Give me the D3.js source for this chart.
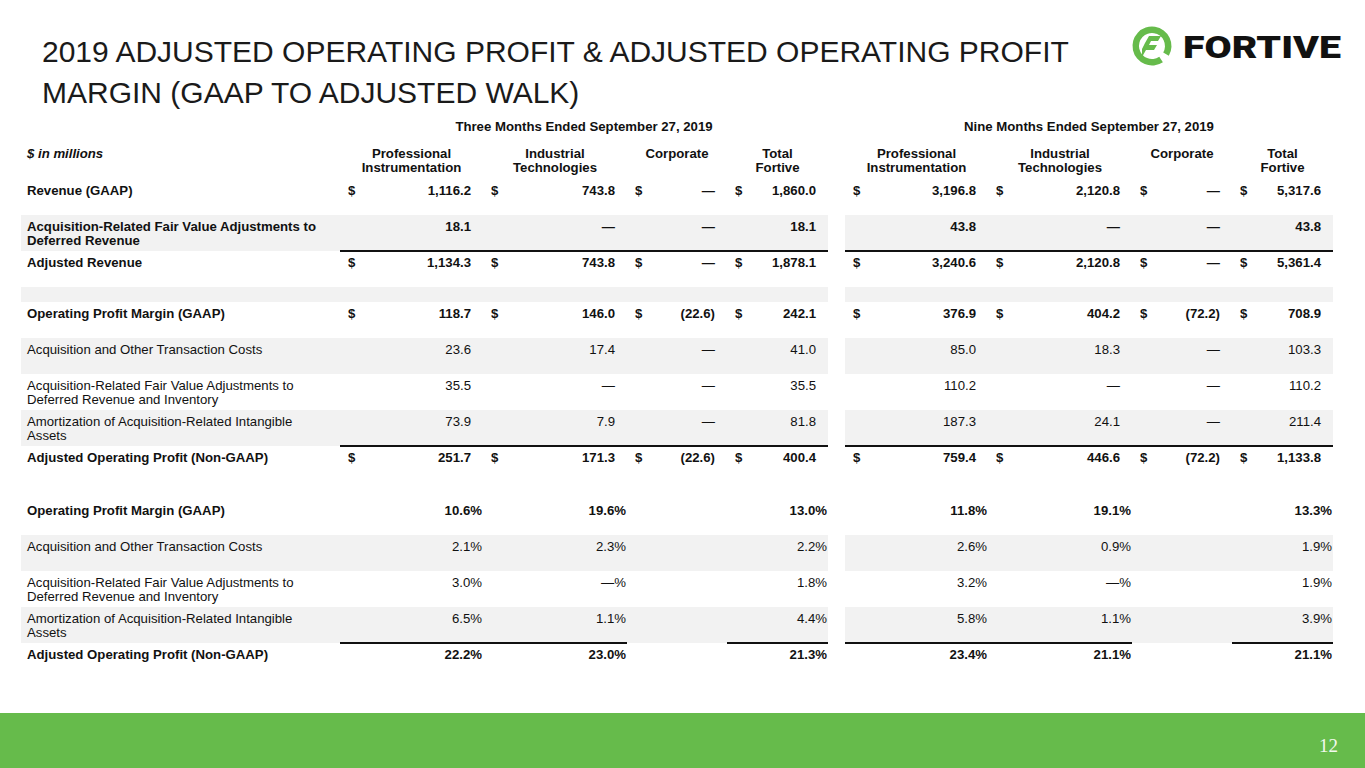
<!DOCTYPE html>
<html>
<head>
<meta charset="utf-8">
<script src="https://cdn.jsdelivr.net/npm/d3@7"></script>
<style>
  body { margin: 0; background: #fff; }
  text { font-family: "Liberation Sans", Arial, sans-serif; }
</style>
</head>
<body>
<div id="slide"></div>
<script>
// Table content
var titleLines = ["2019 ADJUSTED OPERATING PROFIT & ADJUSTED OPERATING PROFIT",
                  "MARGIN (GAAP TO ADJUSTED WALK)"];
var periods = ["Three Months Ended September 27, 2019", "Nine Months Ended September 27, 2019"];
var segments = [["Professional", "Instrumentation"], ["Industrial", "Technologies"], ["Corporate"], ["Total", "Fortive"]];

var rowLabels = [
    ["Revenue (GAAP)"],
    ["Acquisition-Related Fair Value Adjustments to", "Deferred Revenue"],
    ["Adjusted Revenue"],
    [],
    ["Operating Profit Margin (GAAP)"],
    ["Acquisition and Other Transaction Costs"],
    ["Acquisition-Related Fair Value Adjustments to", "Deferred Revenue and Inventory"],
    ["Amortization of Acquisition-Related Intangible", "Assets"],
    ["Adjusted Operating Profit (Non-GAAP)"],
    [],
    ["Operating Profit Margin (GAAP)"],
    ["Acquisition and Other Transaction Costs"],
    ["Acquisition-Related Fair Value Adjustments to", "Deferred Revenue and Inventory"],
    ["Amortization of Acquisition-Related Intangible", "Assets"],
    ["Adjusted Operating Profit (Non-GAAP)"]
];
// "$" = dollar row with signs, "n" = plain number, "%" = percent, "" = empty spacer
var rowFormats = ["$", "n", "$", "", "$", "n", "n", "n", "$", "", "%", "%", "%", "%", "%"];

// null = dash in $ rows, blank in % rows; 0 in % rows = "—%"
var threeMonthValues = [
    [1116.2, 743.8, null, 1860.0],
    [18.1, null, null, 18.1],
    [1134.3, 743.8, null, 1878.1],
    [],
    [118.7, 146.0, -22.6, 242.1],
    [23.6, 17.4, null, 41.0],
    [35.5, null, null, 35.5],
    [73.9, 7.9, null, 81.8],
    [251.7, 171.3, -22.6, 400.4],
    [],
    [10.6, 19.6, null, 13.0],
    [2.1, 2.3, null, 2.2],
    [3.0, 0, null, 1.8],
    [6.5, 1.1, null, 4.4],
    [22.2, 23.0, null, 21.3]
];
var nineMonthValues = [
    [3196.8, 2120.8, null, 5317.6],
    [43.8, null, null, 43.8],
    [3240.6, 2120.8, null, 5361.4],
    [],
    [376.9, 404.2, -72.2, 708.9],
    [85.0, 18.3, null, 103.3],
    [110.2, null, null, 110.2],
    [187.3, 24.1, null, 211.4],
    [759.4, 446.6, -72.2, 1133.8],
    [],
    [11.8, 19.1, null, 13.3],
    [2.6, 0.9, null, 1.9],
    [3.2, 0, null, 1.9],
    [5.8, 1.1, null, 3.9],
    [23.4, 21.1, null, 21.1]
];

// Layout / styling
var width = 1365, height = 768;
var green = "#66bb4b", ink = "#111", band = "#f2f2f2";
var boldRows = [0, 1, 2, 4, 8, 10, 14];
var shadedRows = [1, 3, 5, 7, 11, 13];
var ruleRows = [2, 8, 14];
var rowHeights = [36, 36, 36, 15, 36, 36, 36, 36, 36, 17, 36, 36, 36, 36, 36];
var tableTop = 179;
var labelX = 27, bandLeft = 21;
var sectionLeft = [340, 845];
var colWidths = [143, 144, 100, 101];
var fontSize = "13.2px";

var svg = d3.select("#slide").append("svg")
    .attr("width", width)
    .attr("height", height);

// Title
svg.append("g").selectAll("text")
    .data(titleLines)
    .enter().append("text")
    .attr("x", 42)
    .attr("y", function(d, i) { return 62 + i * 41; })
    .style("font-size", "30px")
    .style("fill", "#1a1a1a")
    .text(function(d) { return d; });

// Logo
var logo = svg.append("g").attr("transform", "translate(1152,46)");
logo.append("path")
    .attr("d", d3.arc().innerRadius(13).outerRadius(19.5).startAngle(2.55).endAngle(2.1 + 2 * Math.PI))
    .style("fill", green);
logo.append("path")
    .attr("d", "M-7,-3 L-3,-10 L9,-10 L6,-5 L-1,-5 L-3,-1 L5,-1 L2,4 L-6,4 L-10,11 L-10,3 Z")
    .style("fill", green);
svg.append("text")
    .attr("x", 1183)
    .attr("y", 58)
    .attr("textLength", 158)
    .attr("lengthAdjust", "spacingAndGlyphs")
    .style("font-family", "Roboto, 'Liberation Sans', sans-serif")
    .style("font-weight", 900)
    .style("font-size", "32px")
    .style("fill", ink)
    .text("FORTIVE");

// Row scale: index -> top
var rowTops = d3.cumsum([0].concat(rowHeights.slice(0, -1))).map(function(v) { return tableTop + v; });
var y = d3.scaleOrdinal().domain(d3.range(rowLabels.length)).range(rowTops);

// Column scale inside a section: segment index -> left offset
var colOffsets = d3.cumsum([0].concat(colWidths.slice(0, -1)));
var x = d3.scaleOrdinal().domain(d3.range(segments.length)).range(colOffsets);
var sectionWidth = d3.sum(colWidths);

var fmtNum = d3.format(",.1f");
function cellText(v, kind) {
    if (kind === "%") {
        if (v == null) return "";
        return v === 0 ? "—%" : d3.format(".1f")(v) + "%";
    }
    if (v == null) return "—";
    return v < 0 ? "(" + fmtNum(-v) + ")" : fmtNum(v);
}

// Shaded bands
var bands = svg.append("g");
shadedRows.forEach(function(r) {
    bands.append("rect")
        .attr("x", bandLeft)
        .attr("y", y(r))
        .attr("width", sectionLeft[0] + sectionWidth - bandLeft)
        .attr("height", rowHeights[r])
        .style("fill", band);
    bands.append("rect")
        .attr("x", sectionLeft[1])
        .attr("y", y(r))
        .attr("width", sectionWidth)
        .attr("height", rowHeights[r])
        .style("fill", band);
});

// Headers
svg.append("text")
    .attr("x", labelX)
    .attr("y", 157.5)
    .style("font-size", fontSize)
    .style("font-weight", "bold")
    .style("font-style", "italic")
    .style("fill", ink)
    .text("$ in millions");

var valueSets = [threeMonthValues, nineMonthValues];

sectionLeft.forEach(function(left, s) {
    var g = svg.append("g").attr("transform", "translate(" + left + ",0)");

    g.append("text")
        .attr("x", sectionWidth / 2)
        .attr("y", 130.5)
        .attr("text-anchor", "middle")
        .style("font-size", fontSize)
        .style("font-weight", "bold")
        .style("fill", ink)
        .text(periods[s]);

    segments.forEach(function(lines, c) {
        g.append("text")
            .attr("x", x(c) + colWidths[c] / 2)
            .attr("y", 157.5)
            .attr("text-anchor", "middle")
            .style("font-size", fontSize)
            .style("font-weight", "bold")
            .style("fill", ink)
            .selectAll("tspan")
            .data(lines)
            .enter().append("tspan")
            .attr("x", x(c) + colWidths[c] / 2)
            .attr("dy", function(d, i) { return i ? 14 : 0; })
            .text(function(d) { return d; });
    });

    // Total rules
    ruleRows.forEach(function(r) {
        var cols = rowFormats[r] === "%" ? [[0, 1], [3, 3]] : [[0, 3]];
        cols.forEach(function(span) {
            g.append("line")
                .attr("x1", x(span[0]))
                .attr("x2", x(span[1]) + colWidths[span[1]])
                .attr("y1", y(r))
                .attr("y2", y(r))
                .style("stroke", ink)
                .style("stroke-width", 2);
        });
    });

    // Cells
    valueSets[s].forEach(function(vals, r) {
        var kind = rowFormats[r];
        if (!kind) return;
        var bold = boldRows.indexOf(r) >= 0;
        var base = y(r) + 15.5;
        vals.forEach(function(v, c) {
            if (kind === "$") {
                g.append("text")
                    .attr("x", x(c) + 8)
                    .attr("y", base)
                    .style("font-size", fontSize)
                    .style("font-weight", bold ? "bold" : "normal")
                    .style("fill", ink)
                    .text("$");
            }
            g.append("text")
                .attr("x", x(c) + colWidths[c] - (kind === "%" ? 1 : 12))
                .attr("y", base)
                .attr("text-anchor", "end")
                .style("font-size", fontSize)
                .style("font-weight", bold ? "bold" : "normal")
                .style("fill", ink)
                .text(cellText(v, kind));
        });
    });
});

// Row labels
rowLabels.forEach(function(lines, r) {
    if (!lines.length) return;
    svg.append("text")
        .attr("y", y(r) + 15.5)
        .style("font-size", fontSize)
        .style("font-weight", boldRows.indexOf(r) >= 0 ? "bold" : "normal")
        .style("fill", ink)
        .selectAll("tspan")
        .data(lines)
        .enter().append("tspan")
        .attr("x", labelX)
        .attr("dy", function(d, i) { return i ? 14 : 0; })
        .text(function(d) { return d; });
});

// Footer
svg.append("rect")
    .attr("x", 0)
    .attr("y", 713)
    .attr("width", width)
    .attr("height", height - 713)
    .style("fill", green);
svg.append("text")
    .attr("x", 1338)
    .attr("y", 752)
    .attr("text-anchor", "end")
    .style("font-family", "'Liberation Serif', 'DejaVu Serif', serif")
    .style("font-size", "19px")
    .style("fill", "#f2f9ee")
    .text("12");
</script>
</body>
</html>
